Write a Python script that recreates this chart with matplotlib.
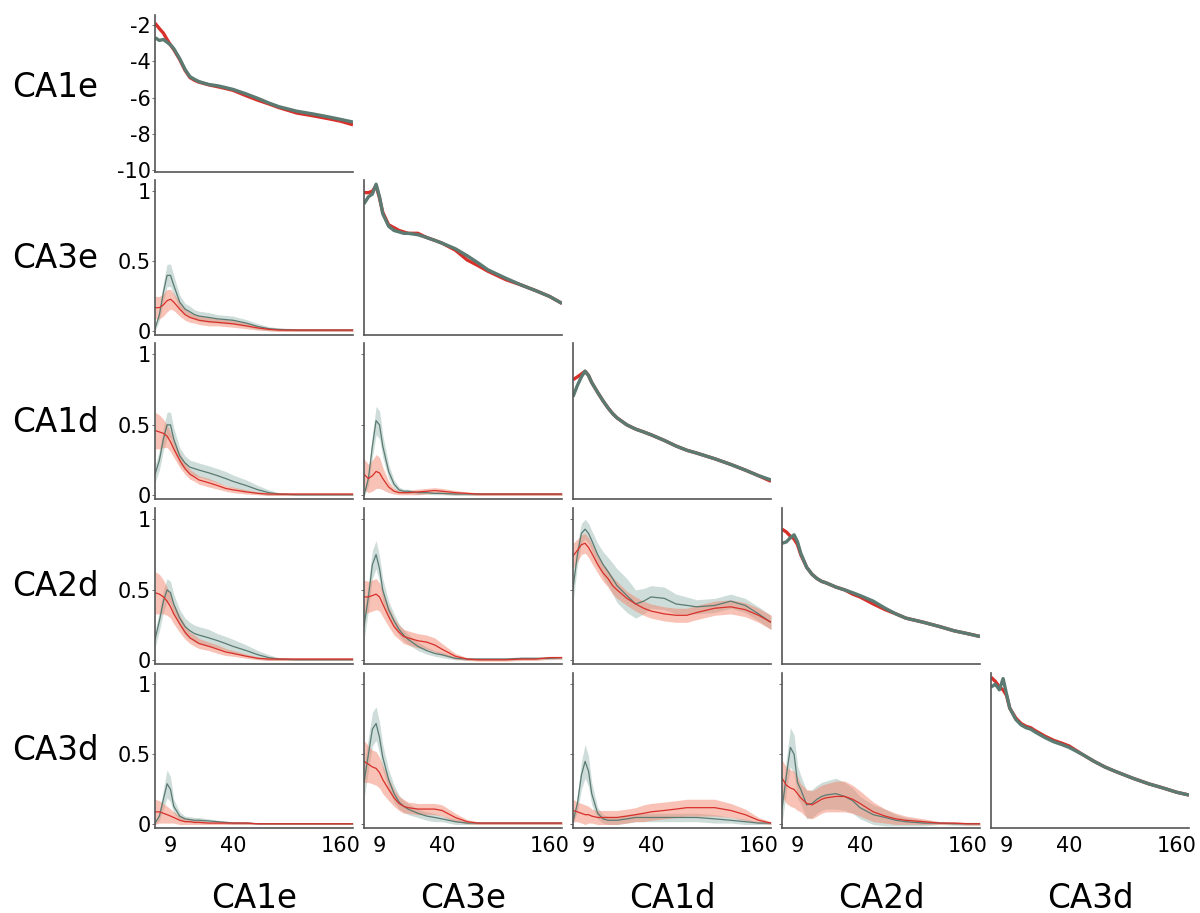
import numpy as np
import matplotlib
matplotlib.use("Agg")
import matplotlib.pyplot as plt

plt.rcParams["axes.unicode_minus"] = False

# frequency axis (Hz)
freqs = [5, 6, 7, 8, 9, 10, 12, 14, 16, 18, 20, 25, 30, 35, 40, 50, 60, 70, 80, 100, 120, 140, 160, 180]
regions = ["CA1e", "CA3e", "CA1d", "CA2d", "CA3d"]
xticks = [9, 40, 160]

# diagonal: power spectra (red / gray)
ca1e_pow_red = [-1.9, -2.2, -2.45, -2.8, -3.1, -3.35, -3.9, -4.5, -4.9, -5.05, -5.15, -5.3, -5.4, -5.5, -5.6, -5.9, -6.15, -6.35, -6.55, -6.85, -7.0, -7.15, -7.3, -7.5]
ca1e_pow_gray = [-2.7, -2.85, -2.8, -2.95, -3.1, -3.3, -3.85, -4.45, -4.85, -5.0, -5.12, -5.28, -5.35, -5.45, -5.55, -5.8, -6.05, -6.3, -6.5, -6.75, -6.9, -7.05, -7.2, -7.35]
ca3e_pow_red = [0.99, 0.99, 1.0, 1.04, 0.95, 0.85, 0.76, 0.74, 0.72, 0.71, 0.70, 0.70, 0.67, 0.65, 0.63, 0.58, 0.51, 0.47, 0.43, 0.37, 0.33, 0.29, 0.25, 0.20]
ca3e_pow_gray = [0.91, 0.96, 0.98, 1.05, 0.96, 0.84, 0.75, 0.72, 0.71, 0.70, 0.70, 0.69, 0.67, 0.65, 0.63, 0.59, 0.54, 0.49, 0.44, 0.38, 0.33, 0.29, 0.25, 0.20]
ca1d_pow_red = [0.82, 0.84, 0.86, 0.88, 0.85, 0.80, 0.73, 0.67, 0.62, 0.58, 0.55, 0.50, 0.47, 0.45, 0.43, 0.39, 0.35, 0.32, 0.30, 0.26, 0.22, 0.18, 0.14, 0.10]
ca1d_pow_gray = [0.70, 0.78, 0.84, 0.88, 0.85, 0.80, 0.73, 0.67, 0.62, 0.58, 0.55, 0.50, 0.47, 0.45, 0.43, 0.39, 0.35, 0.32, 0.30, 0.26, 0.22, 0.18, 0.14, 0.11]
ca2d_pow_red = [0.93, 0.91, 0.88, 0.86, 0.82, 0.75, 0.66, 0.61, 0.58, 0.56, 0.55, 0.52, 0.50, 0.47, 0.45, 0.40, 0.36, 0.33, 0.30, 0.27, 0.24, 0.21, 0.19, 0.17]
ca2d_pow_gray = [0.83, 0.84, 0.87, 0.89, 0.84, 0.76, 0.66, 0.61, 0.58, 0.56, 0.55, 0.52, 0.50, 0.48, 0.46, 0.42, 0.37, 0.33, 0.30, 0.27, 0.24, 0.21, 0.19, 0.17]
ca3d_pow_red = [1.05, 1.02, 0.98, 0.96, 0.92, 0.83, 0.76, 0.72, 0.70, 0.69, 0.67, 0.63, 0.60, 0.58, 0.56, 0.50, 0.45, 0.41, 0.38, 0.33, 0.29, 0.26, 0.23, 0.21]
ca3d_pow_gray = [0.98, 1.0, 0.96, 1.04, 0.93, 0.83, 0.75, 0.71, 0.69, 0.68, 0.66, 0.62, 0.59, 0.57, 0.55, 0.50, 0.45, 0.41, 0.38, 0.33, 0.29, 0.26, 0.23, 0.21]

# off-diagonal: coherence mean and half-width of band
ca3e_ca1e_gray = [0.02, 0.12, 0.28, 0.40, 0.40, 0.33, 0.21, 0.16, 0.14, 0.12, 0.11, 0.10, 0.09, 0.085, 0.08, 0.06, 0.035, 0.02, 0.015, 0.01, 0.01, 0.01, 0.01, 0.01]
ca3e_ca1e_gray_err = [0.02, 0.04, 0.07, 0.08, 0.08, 0.07, 0.05, 0.04, 0.04, 0.035, 0.035, 0.035, 0.03, 0.03, 0.03, 0.025, 0.02, 0.015, 0.01, 0.01, 0.01, 0.01, 0.01, 0.01]
ca3e_ca1e_red = [0.17, 0.17, 0.19, 0.22, 0.23, 0.21, 0.16, 0.12, 0.10, 0.09, 0.08, 0.07, 0.065, 0.06, 0.055, 0.04, 0.025, 0.015, 0.01, 0.01, 0.01, 0.01, 0.01, 0.01]
ca3e_ca1e_red_err = [0.08, 0.08, 0.08, 0.08, 0.07, 0.06, 0.05, 0.04, 0.035, 0.03, 0.03, 0.03, 0.025, 0.025, 0.025, 0.02, 0.015, 0.01, 0.01, 0.01, 0.01, 0.01, 0.01, 0.01]

ca1d_ca1e_gray = [0.15, 0.25, 0.40, 0.50, 0.50, 0.40, 0.28, 0.23, 0.20, 0.19, 0.18, 0.16, 0.14, 0.12, 0.10, 0.07, 0.04, 0.02, 0.01, 0.005, 0.005, 0.005, 0.005, 0.005]
ca1d_ca1e_gray_err = [0.06, 0.07, 0.08, 0.09, 0.09, 0.08, 0.06, 0.05, 0.05, 0.05, 0.05, 0.05, 0.05, 0.05, 0.045, 0.04, 0.03, 0.02, 0.01, 0.005, 0.005, 0.005, 0.005, 0.005]
ca1d_ca1e_red = [0.46, 0.45, 0.44, 0.42, 0.38, 0.33, 0.25, 0.19, 0.15, 0.13, 0.11, 0.09, 0.07, 0.05, 0.04, 0.025, 0.015, 0.01, 0.01, 0.01, 0.01, 0.01, 0.01, 0.01]
ca1d_ca1e_red_err = [0.13, 0.12, 0.10, 0.08, 0.07, 0.06, 0.05, 0.04, 0.035, 0.03, 0.03, 0.03, 0.025, 0.02, 0.02, 0.015, 0.01, 0.01, 0.01, 0.01, 0.01, 0.01, 0.01, 0.01]

ca1d_ca3e_gray = [0.0, 0.12, 0.35, 0.53, 0.50, 0.35, 0.17, 0.08, 0.04, 0.03, 0.03, 0.02, 0.02, 0.015, 0.015, 0.01, 0.01, 0.01, 0.01, 0.01, 0.01, 0.01, 0.01, 0.01]
ca1d_ca3e_gray_err = [0.01, 0.05, 0.08, 0.10, 0.10, 0.08, 0.05, 0.03, 0.02, 0.015, 0.015, 0.01, 0.01, 0.01, 0.01, 0.01, 0.01, 0.01, 0.01, 0.01, 0.01, 0.01, 0.01, 0.01]
ca1d_ca3e_red = [0.15, 0.12, 0.14, 0.17, 0.16, 0.12, 0.06, 0.03, 0.02, 0.02, 0.02, 0.025, 0.03, 0.035, 0.03, 0.02, 0.015, 0.01, 0.01, 0.01, 0.01, 0.01, 0.01, 0.01]
ca1d_ca3e_red_err = [0.11, 0.10, 0.11, 0.12, 0.11, 0.08, 0.04, 0.02, 0.015, 0.015, 0.015, 0.02, 0.02, 0.02, 0.02, 0.015, 0.01, 0.01, 0.01, 0.01, 0.01, 0.01, 0.01, 0.01]

ca2d_ca1e_gray = [0.15, 0.28, 0.42, 0.50, 0.48, 0.40, 0.30, 0.24, 0.21, 0.19, 0.18, 0.16, 0.14, 0.12, 0.10, 0.07, 0.04, 0.02, 0.01, 0.005, 0.005, 0.005, 0.005, 0.005]
ca2d_ca1e_gray_err = [0.06, 0.07, 0.08, 0.08, 0.08, 0.07, 0.06, 0.06, 0.06, 0.06, 0.06, 0.06, 0.05, 0.05, 0.05, 0.04, 0.03, 0.02, 0.01, 0.005, 0.005, 0.005, 0.005, 0.005]
ca2d_ca1e_red = [0.48, 0.47, 0.45, 0.42, 0.38, 0.33, 0.26, 0.20, 0.16, 0.14, 0.12, 0.10, 0.08, 0.06, 0.05, 0.03, 0.015, 0.01, 0.01, 0.01, 0.01, 0.01, 0.01, 0.01]
ca2d_ca1e_red_err = [0.15, 0.14, 0.12, 0.10, 0.08, 0.07, 0.06, 0.05, 0.04, 0.04, 0.035, 0.03, 0.03, 0.025, 0.02, 0.015, 0.01, 0.01, 0.01, 0.01, 0.01, 0.01, 0.01, 0.01]

ca2d_ca3e_gray = [0.24, 0.45, 0.68, 0.75, 0.65, 0.50, 0.36, 0.28, 0.22, 0.18, 0.15, 0.10, 0.07, 0.05, 0.04, 0.015, 0.01, 0.01, 0.01, 0.01, 0.015, 0.015, 0.015, 0.02]
ca2d_ca3e_gray_err = [0.10, 0.10, 0.10, 0.10, 0.09, 0.08, 0.06, 0.05, 0.04, 0.04, 0.035, 0.03, 0.025, 0.02, 0.02, 0.01, 0.01, 0.01, 0.01, 0.01, 0.01, 0.01, 0.01, 0.01]
ca2d_ca3e_red = [0.45, 0.45, 0.46, 0.47, 0.45, 0.40, 0.31, 0.24, 0.20, 0.17, 0.16, 0.14, 0.13, 0.11, 0.08, 0.03, 0.01, 0.005, 0.005, 0.005, 0.01, 0.01, 0.02, 0.02]
ca2d_ca3e_red_err = [0.12, 0.11, 0.11, 0.11, 0.10, 0.09, 0.07, 0.06, 0.05, 0.05, 0.05, 0.05, 0.05, 0.05, 0.04, 0.02, 0.01, 0.01, 0.01, 0.01, 0.01, 0.01, 0.01, 0.01]

ca2d_ca1d_gray = [0.51, 0.75, 0.90, 0.93, 0.90, 0.85, 0.75, 0.68, 0.63, 0.58, 0.53, 0.46, 0.40, 0.42, 0.45, 0.44, 0.40, 0.39, 0.38, 0.39, 0.42, 0.39, 0.33, 0.27]
ca2d_ca1d_gray_err = [0.10, 0.08, 0.07, 0.07, 0.07, 0.07, 0.08, 0.09, 0.10, 0.11, 0.12, 0.12, 0.10, 0.09, 0.08, 0.08, 0.07, 0.06, 0.05, 0.05, 0.05, 0.05, 0.05, 0.05]
ca2d_ca1d_red = [0.74, 0.78, 0.82, 0.83, 0.80, 0.76, 0.68, 0.62, 0.58, 0.53, 0.50, 0.44, 0.40, 0.37, 0.35, 0.33, 0.32, 0.32, 0.34, 0.37, 0.38, 0.36, 0.32, 0.27]
ca2d_ca1d_red_err = [0.09, 0.08, 0.07, 0.07, 0.07, 0.07, 0.06, 0.06, 0.06, 0.06, 0.06, 0.05, 0.05, 0.05, 0.05, 0.05, 0.05, 0.05, 0.05, 0.05, 0.05, 0.05, 0.05, 0.05]

ca3d_ca1e_gray = [0.01, 0.06, 0.18, 0.29, 0.25, 0.13, 0.06, 0.04, 0.035, 0.03, 0.03, 0.025, 0.02, 0.015, 0.01, 0.01, 0.005, 0.005, 0.005, 0.005, 0.005, 0.005, 0.005, 0.005]
ca3d_ca1e_gray_err = [0.01, 0.03, 0.07, 0.10, 0.09, 0.05, 0.03, 0.02, 0.02, 0.02, 0.02, 0.015, 0.01, 0.01, 0.01, 0.01, 0.005, 0.005, 0.005, 0.005, 0.005, 0.005, 0.005, 0.005]
ca3d_ca1e_red = [0.09, 0.09, 0.08, 0.07, 0.06, 0.05, 0.03, 0.02, 0.02, 0.015, 0.015, 0.01, 0.01, 0.01, 0.01, 0.01, 0.005, 0.005, 0.005, 0.005, 0.005, 0.005, 0.005, 0.005]
ca3d_ca1e_red_err = [0.09, 0.08, 0.07, 0.06, 0.05, 0.04, 0.03, 0.02, 0.02, 0.015, 0.015, 0.01, 0.01, 0.01, 0.01, 0.01, 0.005, 0.005, 0.005, 0.005, 0.005, 0.005, 0.005, 0.005]

ca3d_ca3e_gray = [0.30, 0.50, 0.68, 0.72, 0.62, 0.48, 0.32, 0.22, 0.16, 0.13, 0.11, 0.08, 0.06, 0.05, 0.04, 0.02, 0.01, 0.01, 0.01, 0.01, 0.01, 0.01, 0.01, 0.01]
ca3d_ca3e_gray_err = [0.12, 0.12, 0.12, 0.12, 0.11, 0.09, 0.07, 0.06, 0.05, 0.04, 0.04, 0.03, 0.03, 0.03, 0.02, 0.02, 0.01, 0.01, 0.01, 0.01, 0.01, 0.01, 0.01, 0.01]
ca3d_ca3e_red = [0.45, 0.43, 0.41, 0.40, 0.37, 0.32, 0.25, 0.19, 0.15, 0.13, 0.12, 0.11, 0.11, 0.11, 0.10, 0.05, 0.02, 0.01, 0.01, 0.01, 0.01, 0.01, 0.01, 0.01]
ca3d_ca3e_red_err = [0.15, 0.13, 0.12, 0.12, 0.11, 0.10, 0.08, 0.06, 0.05, 0.05, 0.04, 0.04, 0.04, 0.04, 0.04, 0.03, 0.015, 0.01, 0.01, 0.01, 0.01, 0.01, 0.01, 0.01]

ca3d_ca1d_gray = [0.02, 0.15, 0.35, 0.45, 0.38, 0.22, 0.08, 0.04, 0.03, 0.03, 0.03, 0.04, 0.05, 0.05, 0.05, 0.05, 0.05, 0.05, 0.05, 0.04, 0.03, 0.02, 0.01, 0.01]
ca3d_ca1d_gray_err = [0.02, 0.06, 0.10, 0.12, 0.11, 0.08, 0.04, 0.03, 0.03, 0.03, 0.03, 0.03, 0.03, 0.03, 0.03, 0.03, 0.03, 0.03, 0.03, 0.03, 0.02, 0.02, 0.01, 0.01]
ca3d_ca1d_red = [0.10, 0.09, 0.08, 0.07, 0.07, 0.06, 0.05, 0.05, 0.05, 0.05, 0.05, 0.06, 0.07, 0.08, 0.09, 0.10, 0.11, 0.12, 0.12, 0.12, 0.10, 0.07, 0.03, 0.01]
ca3d_ca1d_red_err = [0.08, 0.07, 0.07, 0.07, 0.06, 0.05, 0.05, 0.05, 0.05, 0.05, 0.05, 0.05, 0.05, 0.06, 0.06, 0.06, 0.06, 0.06, 0.06, 0.06, 0.05, 0.04, 0.02, 0.01]

ca3d_ca2d_gray = [0.11, 0.35, 0.55, 0.50, 0.30, 0.25, 0.14, 0.15, 0.18, 0.20, 0.21, 0.22, 0.20, 0.17, 0.12, 0.07, 0.05, 0.03, 0.02, 0.01, 0.01, 0.005, 0.005, 0.005]
ca3d_ca2d_gray_err = [0.10, 0.12, 0.14, 0.14, 0.12, 0.10, 0.10, 0.10, 0.10, 0.10, 0.10, 0.11, 0.10, 0.09, 0.08, 0.07, 0.06, 0.04, 0.03, 0.02, 0.01, 0.01, 0.01, 0.01]
ca3d_ca2d_red = [0.33, 0.28, 0.26, 0.25, 0.22, 0.19, 0.15, 0.14, 0.16, 0.18, 0.19, 0.20, 0.20, 0.18, 0.15, 0.09, 0.06, 0.04, 0.03, 0.02, 0.01, 0.01, 0.005, 0.005]
ca3d_ca2d_red_err = [0.13, 0.13, 0.13, 0.13, 0.12, 0.10, 0.10, 0.10, 0.10, 0.10, 0.10, 0.11, 0.11, 0.10, 0.09, 0.07, 0.05, 0.04, 0.03, 0.02, 0.01, 0.01, 0.01, 0.01]

diag = {
    0: (ca1e_pow_red, ca1e_pow_gray),
    1: (ca3e_pow_red, ca3e_pow_gray),
    2: (ca1d_pow_red, ca1d_pow_gray),
    3: (ca2d_pow_red, ca2d_pow_gray),
    4: (ca3d_pow_red, ca3d_pow_gray),
}
offdiag = {
    (1, 0): (ca3e_ca1e_red, ca3e_ca1e_red_err, ca3e_ca1e_gray, ca3e_ca1e_gray_err),
    (2, 0): (ca1d_ca1e_red, ca1d_ca1e_red_err, ca1d_ca1e_gray, ca1d_ca1e_gray_err),
    (2, 1): (ca1d_ca3e_red, ca1d_ca3e_red_err, ca1d_ca3e_gray, ca1d_ca3e_gray_err),
    (3, 0): (ca2d_ca1e_red, ca2d_ca1e_red_err, ca2d_ca1e_gray, ca2d_ca1e_gray_err),
    (3, 1): (ca2d_ca3e_red, ca2d_ca3e_red_err, ca2d_ca3e_gray, ca2d_ca3e_gray_err),
    (3, 2): (ca2d_ca1d_red, ca2d_ca1d_red_err, ca2d_ca1d_gray, ca2d_ca1d_gray_err),
    (4, 0): (ca3d_ca1e_red, ca3d_ca1e_red_err, ca3d_ca1e_gray, ca3d_ca1e_gray_err),
    (4, 1): (ca3d_ca3e_red, ca3d_ca3e_red_err, ca3d_ca3e_gray, ca3d_ca3e_gray_err),
    (4, 2): (ca3d_ca1d_red, ca3d_ca1d_red_err, ca3d_ca1d_gray, ca3d_ca1d_gray_err),
    (4, 3): (ca3d_ca2d_red, ca3d_ca2d_red_err, ca3d_ca2d_gray, ca3d_ca2d_gray_err),
}

RED = "#d8302a"
RED_FILL = "#f2866e"
GRAY = "#5a7a72"
GRAY_FILL = "#9fbdb4"
SPINE = "#555555"

W, H = 1200, 913
fig = plt.figure(figsize=(W / 100, H / 100), dpi=100)

col_left = [155, 364, 573, 782, 991]
col_w = 198
row_top = [15, 180, 343, 508, 673]
row_bot = [172, 335, 499, 664, 828]
row_label_y = [87, 258, 422, 586, 751]

p = 0.43
fwd = lambda x: np.power(np.clip(x, 1e-6, None), p)
inv = lambda y: np.power(np.clip(y, 1e-6, None), 1 / p)

f = np.array(freqs)
for i in range(5):
    for j in range(i + 1):
        l = col_left[j] / W
        b = 1 - row_bot[i] / H
        h = (row_bot[i] - row_top[i]) / H
        ax = fig.add_axes([l, b, col_w / W, h])
        ax.set_xscale("function", functions=(fwd, inv))
        ax.set_xlim(5, 180)
        if i == j:
            red, gray = diag[i]
            ax.plot(f, red, color=RED, lw=2.4, solid_capstyle="butt")
            ax.plot(f, gray, color=GRAY, lw=2.4, solid_capstyle="butt")
        else:
            r, re, g, ge = [np.array(a) for a in offdiag[(i, j)]]
            ax.fill_between(f, g - ge, g + ge, color=GRAY_FILL, alpha=0.5, lw=0)
            ax.fill_between(f, r - re, r + re, color=RED_FILL, alpha=0.5, lw=0)
            ax.plot(f, g, color=GRAY, lw=0.9)
            ax.plot(f, r, color=RED, lw=0.9)
        if i == 0:
            ax.set_ylim(-10.1, -1.45)
            ax.set_yticks([-2, -4, -6, -8, -10])
        else:
            ax.set_ylim(-0.025, 1.08)
            ax.set_yticks([0, 0.5, 1])
            ax.set_yticklabels(["0", "0.5", "1"])
        if not (j == 0 and i > 0) and i != 0:
            ax.set_yticklabels([])
        if i == j and i > 0:
            ax.set_yticks([])
        ax.set_xticks(xticks)
        ax.set_xticks([], minor=True)
        if i == 4:
            ax.set_xticklabels([str(t) for t in xticks])
        else:
            ax.set_xticklabels([])
        for s in ["top", "right"]:
            ax.spines[s].set_visible(False)
        for s in ["left", "bottom"]:
            ax.spines[s].set_color(SPINE)
            ax.spines[s].set_linewidth(1.2)
        ax.tick_params(axis="y", length=2, width=0.6, color=SPINE, pad=1, labelsize=15)
        ax.tick_params(axis="x", length=0, pad=6, labelsize=15)

for i, name in enumerate(regions):
    fig.text(55 / W, 1 - row_label_y[i] / H, name, fontsize=23.5, ha="center", va="center")
    fig.text((col_left[i] + col_w / 2) / W, 1 - 898 / H, name, fontsize=23.5, ha="center", va="center")

fig.savefig("out.png", dpi=100)
